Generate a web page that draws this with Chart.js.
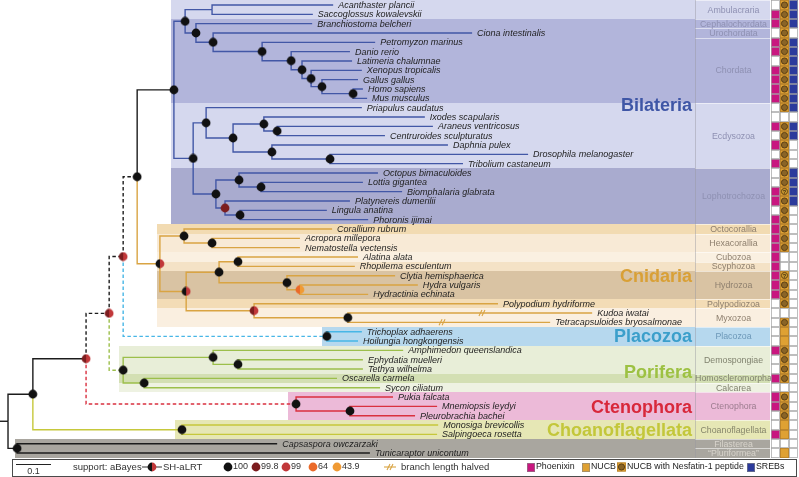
<!DOCTYPE html>
<html>
<head>
<meta charset="utf-8">
<script src="https://cdn.jsdelivr.net/npm/chart.js"></script>
<style>
  html, body { margin: 0; padding: 0; background: #fff; }
  canvas { display: block; }
</style>
</head>
<body>
<canvas id="tree" width="799" height="477"></canvas>
<script>
// ---- data -------------------------------------------------------------
// leaves, top to bottom, with their parent node and tip depth (subst./site)
const leafNames = [
  'Acanthaster plancii', 'Saccoglossus kowalevskii', 'Branchiostoma belcheri', 'Ciona intestinalis',
  'Petromyzon marinus', 'Danio rerio', 'Latimeria chalumnae', 'Xenopus tropicalis', 'Gallus gallus',
  'Homo sapiens', 'Mus musculus', 'Priapulus caudatus', 'Ixodes scapularis', 'Araneus ventricosus',
  'Centruroides sculpturatus', 'Daphnia pulex', 'Drosophila melanogaster', 'Tribolium castaneum',
  'Octopus bimaculoides', 'Lottia gigantea', 'Biomphalaria glabrata', 'Platynereis dumerilii',
  'Lingula anatina', 'Phoronis ijimai', 'Corallium rubrum', 'Acropora millepora', 'Nematostella vectensis',
  'Alatina alata', 'Rhopilema esculentum', 'Clytia hemisphaerica', 'Hydra vulgaris', 'Hydractinia echinata',
  'Polypodium hydriforme', 'Kudoa iwatai', 'Tetracapsuloides bryosalmonae', 'Trichoplax adhaerens',
  'Hoilungia hongkongensis', 'Amphimedon queenslandica', 'Ephydatia muelleri', 'Tethya wilhelma',
  'Oscarella carmela', 'Sycon ciliatum', 'Pukia falcata', 'Mnemiopsis leydyi', 'Pleurobrachia bachei',
  'Monosiga brevicollis', 'Salpingoeca rosetta', 'Capsaspora owczarzaki', 'Tunicaraptor unicontum'
];
const leafParents = [
  'ambulacraria', 'ambulacraria', 'chordata', 'olfactores', 'vertebrata', 'gnathostomata', 'sarcopterygii',
  'tetrapoda', 'amniota', 'mammalia', 'mammalia', 'ecdysozoa', 'chelicerata', 'arachnida', 'arachnida',
  'pancrustacea', 'insecta', 'insecta', 'mollusca', 'gastropoda', 'gastropoda', 'spiralia2', 'brachiozoa',
  'brachiozoa', 'anthozoa', 'hexacorallia', 'hexacorallia', 'cubscy', 'cubscy', 'hydrozoa', 'hydrozoa2',
  'hydrozoa2', 'endocnidozoa', 'myxozoa', 'myxozoa', 'placozoa', 'placozoa', 'demospongiae', 'demo2',
  'demo2', 'homoCalc', 'homoCalc', 'ctenophora', 'ctenophora2', 'ctenophora2', 'choanoflagellata',
  'choanoflagellata', 'filPlu', 'filPlu'
];
const leafDepths = [
  0.929, 0.871, 0.869, 1.326, 1.049, 0.977, 0.983, 1.011, 1.000, 1.014, 1.026, 1.011, 1.191, 1.214,
  1.077, 1.257, 1.486, 1.300, 1.057, 1.014, 1.126, 0.977, 0.911, 1.029, 0.926, 0.834, 0.834, 1.000,
  0.991, 1.106, 1.171, 1.029, 1.400, 1.669, 1.549, 1.011, 1.000, 1.129, 1.014, 1.014, 0.940, 1.063,
  1.100, 1.226, 1.163, 1.229, 1.226, 0.769, 1.034
];

// internal nodes
const nodeNames = [
  'root', 'holozoa', 'filPlu', 'metazoa', 'choanoflagellata', 'm2', 'ctenophora', 'm3', 'porifera', 'm4',
  'placozoa', 'bilateria', 'cnidaria', 'deuterostomia', 'protostomia', 'ambulacraria', 'chordata',
  'olfactores', 'vertebrata', 'gnathostomata', 'sarcopterygii', 'tetrapoda', 'amniota', 'mammalia',
  'ecdysozoa', 'arthropoda', 'chelicerata', 'arachnida', 'pancrustacea', 'insecta', 'lophotrochozoa',
  'mollusca', 'gastropoda', 'spiralia2', 'brachiozoa', 'anthozoa', 'hexacorallia', 'medusozoa',
  'acraspeda', 'cubscy', 'hydrozoa', 'hydrozoa2', 'endocnidozoa', 'myxozoa', 'demospongiae', 'demo2',
  'homoCalc', 'ctenophora2'
];
const nodeParents = [
  null, 'root', 'root', 'holozoa', 'holozoa', 'metazoa', 'metazoa', 'm2', 'm2', 'm3', 'm3', 'm4', 'm4',
  'bilateria', 'bilateria', 'deuterostomia', 'deuterostomia', 'chordata', 'olfactores', 'vertebrata',
  'gnathostomata', 'sarcopterygii', 'tetrapoda', 'amniota', 'protostomia', 'ecdysozoa', 'arthropoda',
  'chelicerata', 'arthropoda', 'pancrustacea', 'protostomia', 'lophotrochozoa', 'mollusca',
  'lophotrochozoa', 'spiralia2', 'cnidaria', 'anthozoa', 'cnidaria', 'medusozoa', 'acraspeda', 'acraspeda',
  'hydrozoa', 'medusozoa', 'endocnidozoa', 'porifera', 'demospongiae', 'porifera', 'ctenophora'
];
const nodeDepths = [
  0, 0.071, 0.026, 0.223, 0.497, 0.289, 0.823, 0.329, 0.329, 0.369, 0.911, 0.474, 0.434, 0.506, 0.529,
  0.583, 0.537, 0.586, 0.726, 0.809, 0.840, 0.866, 0.897, 0.986, 0.566, 0.643, 0.731, 0.769, 0.754,
  0.920, 0.594, 0.660, 0.723, 0.620, 0.663, 0.503, 0.583, 0.509, 0.603, 0.657, 0.797, 0.834, 0.703,
  0.971, 0.586, 0.657, 0.389, 0.977
];
// node support (null = not shown)
const supportABayes = [
  null, 100, 100, 99.8, 100, 99.8, 100, 99.8, 100, 100, 100, 100, 100, 100, 100, null, 100, 100, 100,
  100, 100, 100, 100, 100, 100, 100, 100, 100, 100, 100, 100, 100, 100, 99.8, 100, 100, 100, 100, 100,
  100, 100, 64, 99.8, 100, 100, 100, 100, 100
];
const supportSHaLRT = [
  null, 100, 100, 99, 100, 99, 100, 99, 100, 100, 100, 100, 99, 100, 100, null, 100, 100, 100, 100,
  100, 100, 100, 100, 100, 100, 100, 100, 100, 100, 100, 100, 100, 99.8, 100, 100, 100, 99, 100, 100,
  100, 43.9, 99, 100, 100, 100, 100, 100
];
const supportLevels = [100, 99.8, 99, 64, 43.9];

// branches drawn at half length
const halvedLeaves = ['Kudoa iwatai', 'Tetracapsuloides bryosalmonae'];
const halvedAt = [1.357, 1.243];

// presence matrix: phoenixin, NUCB (0 none, 1 NUCB, 2 with nesfatin-1, 3 nesfatin-1 uncertain), SREBs
const phoenixin = [0,1,1,0,1,1,0,1,1,1,1,0,0,1,0,1,0,1,0,0,1,1,0,1,1,1,1,1,1,1,1,1,0,0,0,0,0,1,0,0,1,0,1,1,0,0,1,0,0];
const nucb      = [2,2,2,2,2,2,2,2,2,2,2,2,0,2,2,2,2,2,2,2,3,2,2,2,2,2,2,0,0,3,2,2,2,0,2,1,1,2,2,2,2,0,2,2,2,1,1,0,1];
const srebs     = [1,1,1,0,1,1,1,1,1,1,1,1,0,1,1,0,0,0,1,1,1,1,0,0,0,0,0,0,0,0,0,0,0,0,0,0,0,0,0,0,0,0,0,0,0,0,0,0,0];

// taxonomic groups (label column)
const groupNames = [
  'Ambulacraria', 'Cephalochordata', 'Urochordata', 'Chordata', 'Ecdysozoa', 'Lophotrochozoa',
  'Octocorallia', 'Hexacorallia', 'Cubozoa', 'Scyphozoa', 'Hydrozoa', 'Polypodiozoa', 'Myxozoa',
  'Placozoa', 'Demospongiae', 'Homoscleromorpha', 'Calcarea', 'Ctenophora', 'Choanoflagellata',
  'Filasterea', '\u201CPluriformea\u201D'
];
const groupFirst = [0, 2, 3, 4, 11, 18, 24, 25, 27, 28, 29, 32, 33, 35, 37, 40, 41, 42, 45, 47, 48];
const groupLast  = [1, 2, 3, 10, 17, 23, 24, 26, 27, 28, 31, 32, 34, 36, 39, 40, 41, 44, 46, 47, 48];
const cladeLabels = ['Bilateria', 'Cnidaria', 'Placozoa', 'Porifera', 'Ctenophora', 'Choanoflagellata'];

// ---- styling ----------------------------------------------------------
const FONT = '"Liberation Sans", Arial, sans-serif';
const COL = {
  black: '#1c1c1c', blue: '#4257a6', orange: '#d9a443', lblue: '#47b6e6',
  green: '#9cbf4b', red: '#d9303f', yg: '#c6c83b'
};
const edgeColors = {
  root: COL.black, choanoflagellata: COL.yg, ctenophora: COL.red, porifera: COL.green,
  placozoa: COL.lblue, cnidaria: COL.orange, deuterostomia: COL.blue, protostomia: COL.blue
};
const dashedEdges = ['m2', 'm3', 'm4', 'ctenophora', 'porifera', 'placozoa'];
const supportColors = { 100: '#111111', 99.8: '#7c1d1f', 99: '#c1383a', 64: '#ea6a2a', 43.9: '#f09a34' };

const groupFill = ['#d5d8ee', '#b2b5db', '#b2b5db', '#b2b5db', '#d5d8ee', '#a9abcf', '#f2dbb2', '#f8ead6',
  '#faf0e1', '#f4e2c6', '#d9c3a3', '#f3dcb6', '#faefe0', '#b6d8ee', '#e8eed8', '#d3dfb3', '#eef2e2',
  '#ecbad8', '#e6e7b5', '#a9a69f', '#a9a69f'];
const groupClade = ['bilateria', 'bilateria', 'bilateria', 'bilateria', 'bilateria', 'bilateria',
  'cnidaria', 'cnidaria', 'cnidaria', 'cnidaria', 'cnidaria', 'cnidaria', 'cnidaria', 'placozoa',
  'porifera', 'porifera', 'porifera', 'ctenophora', 'choanoflagellata', 'filPlu', 'filPlu'];
const cladePad = { bilateria: 3, cnidaria: 3, placozoa: 5, porifera: 4, ctenophora: 8, choanoflagellata: 7, filPlu: 2 };
const cladeTextColor = { bilateria: '#8e90b2', cnidaria: '#8f806f', placozoa: '#6d98b8', porifera: '#80836f',
  ctenophora: '#9b7c8e', choanoflagellata: '#86866b', filPlu: '#d8d4cc' };
const cladeLabelStyle = [
  { color: '#3f56a6', row: 10.7 }, { color: '#d9a036', row: 29 }, { color: '#3b9fcb', row: 35.5 },
  { color: '#9dc143', row: 39.3 }, { color: '#d8283b', row: 43.1 }, { color: '#c3c73a', row: 45.5 }
];
const LABEL_COL = [695, 770];
const MATRIX_X = 771, CELL_W = 9;

const X_MIN = -0.0229, X_MAX = 2.26;
const Y_MIN = -0.536, Y_MAX = 50.57;

// ---- tree layout from the data ----------------------------------------
const parentOf = {};
const children = {};
nodeNames.forEach((n, i) => {
  parentOf[n] = nodeParents[i];
  if (nodeParents[i]) (children[nodeParents[i]] = children[nodeParents[i]] || []).push(n);
});
leafNames.forEach((n, i) => {
  parentOf[n] = leafParents[i];
  (children[leafParents[i]] = children[leafParents[i]] || []).push(n);
});
const pos = {};
leafNames.forEach((n, i) => { pos[n] = { x: leafDepths[i], y: i }; });
function place(name) {
  if (pos[name]) return pos[name];
  const ys = children[name].map(c => place(c).y);
  pos[name] = { x: nodeDepths[nodeNames.indexOf(name)], y: (Math.min(...ys) + Math.max(...ys)) / 2 };
  return pos[name];
}
nodeNames.forEach(place);

function colorOf(name) {
  let n = name;
  while (n && !(n in edgeColors)) n = parentOf[n];
  return edgeColors[n] || COL.black;
}

// half-and-half support dots
const dotCache = {};
function supportDot(a, s) {
  const key = a + '_' + s;
  if (dotCache[key]) return dotCache[key];
  const c = document.createElement('canvas');
  c.width = 10; c.height = 10;
  const g = c.getContext('2d');
  g.fillStyle = supportColors[a];
  g.beginPath(); g.arc(5, 5, 4.4, Math.PI / 2, Math.PI * 1.5); g.closePath(); g.fill();
  g.fillStyle = supportColors[s];
  g.beginPath(); g.arc(5, 5, 4.4, -Math.PI / 2, Math.PI / 2); g.closePath(); g.fill();
  dotCache[key] = c;
  return c;
}

const allNames = nodeNames.concat(leafNames);
const branchSets = allNames.filter(n => parentOf[n]).map(n => {
  const p = pos[parentOf[n]], c = pos[n];
  return {
    data: [{ x: p.x, y: p.y }, { x: p.x, y: c.y }, { x: c.x, y: c.y }],
    showLine: true, borderColor: colorOf(n), borderWidth: 1.4,
    borderDash: dashedEdges.includes(n) ? [3.5, 2.5] : [],
    pointRadius: 0, order: 1
  };
});
branchSets.push({
  data: [{ x: X_MIN, y: pos.root.y }, { x: 0, y: pos.root.y }],
  showLine: true, borderColor: COL.black, borderWidth: 1.4, pointRadius: 0, order: 1
});

const dotIdx = nodeNames.map((n, i) => i).filter(i => supportABayes[i] != null);
const dotSet = {
  data: dotIdx.map(i => pos[nodeNames[i]]),
  pointStyle: dotIdx.map(i => supportDot(supportABayes[i], supportSHaLRT[i])),
  pointRadius: 4.5, showLine: false, order: 0
};

// ---- drawing helpers ----------------------------------------------------
function rowTop(ys, r) { return Math.round(ys.getPixelForValue(r - 0.5)); }

const decor = {
  id: 'decor',
  beforeDatasetsDraw(chart) {
    const { ctx, scales: { x, y } } = chart;
    ctx.save();
    groupNames.forEach((g, i) => {
      const top = rowTop(y, groupFirst[i]), bot = rowTop(y, groupLast[i] + 1);
      const clade = groupClade[i];
      const left = Math.round(x.getPixelForValue(pos[clade].x) - cladePad[clade]);
      ctx.fillStyle = groupFill[i];
      ctx.fillRect(left, top, LABEL_COL[1] - left, bot - top);
    });
    // label column frame
    ctx.strokeStyle = 'rgba(255,255,255,0.55)';
    ctx.lineWidth = 1;
    groupNames.forEach((g, i) => {
      const top = rowTop(y, groupFirst[i]);
      ctx.beginPath(); ctx.moveTo(LABEL_COL[0], top + 0.5); ctx.lineTo(LABEL_COL[1], top + 0.5); ctx.stroke();
    });
    ctx.strokeStyle = 'rgba(150,150,160,0.45)';
    ctx.beginPath();
    ctx.moveTo(LABEL_COL[0] + 0.5, 0);
    ctx.lineTo(LABEL_COL[0] + 0.5, rowTop(y, leafNames.length));
    ctx.stroke();
    ctx.restore();
  },
  afterDatasetsDraw(chart) {
    const { ctx, scales: { x, y } } = chart;
    ctx.save();
    // leaf labels
    ctx.font = 'italic 9px ' + FONT;
    ctx.fillStyle = '#1e1e1e';
    ctx.textBaseline = 'middle';
    ctx.textAlign = 'left';
    leafNames.forEach((n, i) => {
      ctx.fillText(n, x.getPixelForValue(leafDepths[i]) + 5, y.getPixelForValue(i) + 0.5);
    });
    // halved-branch marks
    ctx.strokeStyle = COL.orange;
    ctx.lineWidth = 1.1;
    halvedLeaves.forEach((n, k) => {
      const px = x.getPixelForValue(halvedAt[k]), py = y.getPixelForValue(leafNames.indexOf(n));
      drawHalved(ctx, px, py);
    });
    // big clade labels
    ctx.font = 'bold 18px ' + FONT;
    ctx.textAlign = 'right';
    cladeLabels.forEach((c, i) => {
      ctx.fillStyle = cladeLabelStyle[i].color;
      ctx.fillText(c, 692, y.getPixelForValue(cladeLabelStyle[i].row) + 1);
    });
    // label column
    ctx.font = '8.8px ' + FONT;
    ctx.textAlign = 'center';
    groupNames.forEach((g, i) => {
      ctx.fillStyle = cladeTextColor[groupClade[i]];
      ctx.fillText(g, (LABEL_COL[0] + LABEL_COL[1]) / 2 + 1,
        y.getPixelForValue((groupFirst[i] + groupLast[i]) / 2) + 0.5);
    });
    // presence matrix
    leafNames.forEach((n, i) => {
      const t = rowTop(y, i), b = rowTop(y, i + 1), h = b - t;
      drawCell(ctx, MATRIX_X, t, CELL_W, h, phoenixin[i] ? '#c8177f' : '#ffffff');
      drawNucb(ctx, MATRIX_X + CELL_W, t, CELL_W, h, nucb[i]);
      drawCell(ctx, MATRIX_X + 2 * CELL_W, t, CELL_W, h, srebs[i] ? '#2c3b9c' : '#ffffff');
    });
    drawLegend(ctx, x);
    ctx.restore();
  }
};

function drawHalved(ctx, px, py) {
  ctx.beginPath();
  ctx.moveTo(px - 4, py + 3); ctx.lineTo(px - 1, py - 3);
  ctx.moveTo(px - 1, py + 3); ctx.lineTo(px + 2, py - 3);
  ctx.stroke();
}
function drawCell(ctx, x0, y0, w, h, fill) {
  ctx.fillStyle = fill;
  ctx.fillRect(x0, y0, w, h);
  ctx.strokeStyle = '#a3a3a3';
  ctx.lineWidth = 0.7;
  ctx.strokeRect(x0 + 0.35, y0 + 0.35, w - 0.7, h - 0.7);
}
function drawNucb(ctx, x0, y0, w, h, code) {
  if (!code) { drawCell(ctx, x0, y0, w, h, '#ffffff'); return; }
  ctx.fillStyle = '#dfa133';
  ctx.fillRect(x0, y0, w, h);
  ctx.strokeStyle = '#b07c2a';
  ctx.lineWidth = 0.7;
  ctx.strokeRect(x0 + 0.35, y0 + 0.35, w - 0.7, h - 0.7);
  if (code >= 2) {
    ctx.beginPath();
    ctx.arc(x0 + w / 2, y0 + h / 2, 3.1, 0, Math.PI * 2);
    ctx.fillStyle = code === 3 ? '#c9982f' : '#8a6426';
    ctx.fill();
    ctx.strokeStyle = '#4a3210';
    ctx.lineWidth = 0.8;
    ctx.stroke();
    if (code === 3) {
      ctx.fillStyle = '#3a2a10';
      ctx.font = 'bold 5.5px ' + FONT;
      ctx.textAlign = 'center';
      ctx.fillText('?', x0 + w / 2, y0 + h / 2 + 0.5);
    }
  }
}

function drawLegend(ctx, x) {
  const cy = 467;
  ctx.fillStyle = '#ffffff';
  ctx.fillRect(12, 459, 785, 18);
  ctx.strokeStyle = '#4a4a4a';
  ctx.lineWidth = 1;
  ctx.strokeRect(12.5, 459.5, 784, 17);
  // scale bar from the x scale
  const unit = x.getPixelForValue(0.1) - x.getPixelForValue(0);
  ctx.strokeStyle = '#222';
  ctx.beginPath(); ctx.moveTo(16, 464.5); ctx.lineTo(16 + unit, 464.5); ctx.stroke();
  ctx.fillStyle = '#333';
  ctx.font = '9px ' + FONT;
  ctx.textAlign = 'center';
  ctx.textBaseline = 'middle';
  ctx.fillText('0.1', 16 + unit / 2, 472);
  ctx.textAlign = 'left';
  ctx.font = '9.5px ' + FONT;
  ctx.fillText('support: aBayes', 73, cy);
  ctx.strokeStyle = '#333';
  ctx.beginPath(); ctx.moveTo(142, cy); ctx.lineTo(148, cy); ctx.moveTo(156, cy); ctx.lineTo(162, cy); ctx.stroke();
  ctx.drawImage(supportDot(100, 99), 147, cy - 5);
  ctx.fillText('SH-aLRT', 163, cy);
  const dx = [228, 256, 286, 313, 337];
  ctx.font = '9px ' + FONT;
  supportLevels.forEach((s, i) => {
    ctx.drawImage(supportDot(s, s), dx[i] - 5, cy - 5);
    ctx.fillStyle = '#333';
    ctx.fillText(String(s), dx[i] + 5, cy);
  });
  // halved mark
  ctx.strokeStyle = COL.orange;
  ctx.lineWidth = 1.1;
  ctx.beginPath(); ctx.moveTo(384, cy); ctx.lineTo(396, cy); ctx.stroke();
  drawHalved(ctx, 391, cy);
  ctx.fillStyle = '#333';
  ctx.font = '9.5px ' + FONT;
  ctx.fillText('branch length halved', 401, cy);
  // matrix keys
  ctx.font = '8.8px ' + FONT;
  const keyBox = (kx, fill) => {
    ctx.fillStyle = fill; ctx.fillRect(kx, cy - 4, 8, 9);
    ctx.strokeStyle = '#888'; ctx.lineWidth = 0.6; ctx.strokeRect(kx + 0.3, cy - 3.7, 7.4, 8.4);
  };
  keyBox(527, '#c8177f');
  ctx.fillStyle = '#222'; ctx.fillText('Phoenixin', 536, cy);
  keyBox(582, '#dfa133');
  ctx.fillStyle = '#222'; ctx.fillText('NUCB', 591, cy);
  drawNucb(ctx, 617, cy - 4.5, 9, 9, 2);
  ctx.fillStyle = '#222'; ctx.textAlign = 'left'; ctx.font = '8.8px ' + FONT;
  ctx.fillText('NUCB with Nesfatin-1 peptide', 627, cy);
  keyBox(747, '#2c3b9c');
  ctx.fillStyle = '#222'; ctx.fillText('SREBs', 756, cy);
}

new Chart(document.getElementById('tree'), {
  type: 'scatter',
  data: { datasets: [dotSet].concat(branchSets) },
  options: {
    responsive: false,
    animation: false,
    devicePixelRatio: 1,
    layout: { padding: 0, autoPadding: false },
    plugins: { legend: { display: false }, tooltip: { enabled: false } },
    scales: {
      x: { type: 'linear', display: false, min: X_MIN, max: X_MAX },
      y: { type: 'linear', display: false, reverse: true, min: Y_MIN, max: Y_MAX }
    }
  },
  plugins: [decor]
});
</script>
</body>
</html>
